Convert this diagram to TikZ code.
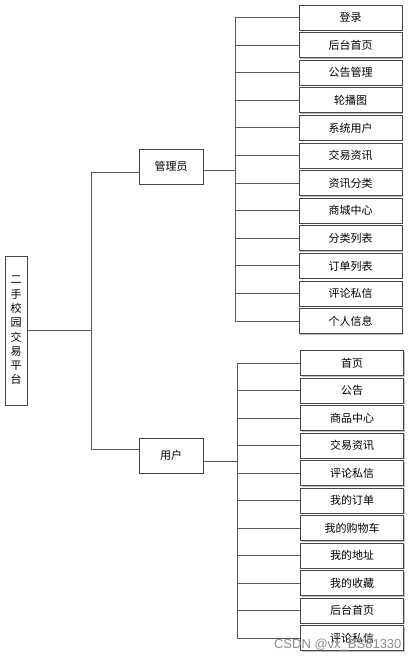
\documentclass[tikz,border=0pt]{standalone}
\usepackage{fontspec}
\newfontfamily\cjk{Noto Sans CJK SC}
\newfontfamily\wmfont{Liberation Sans}
\usetikzlibrary{shadows}
\begin{document}
\begin{tikzpicture}[x=1pt,y=1pt,
  box/.style={draw=black!72,line width=0.9pt,fill=white,
    drop shadow={shadow xshift=1pt,shadow yshift=-1pt,fill=black!25,opacity=1},
    font=\cjk\fontsize{11}{13}\selectfont,inner sep=0pt},
  leaf/.style={box,minimum width=103pt,minimum height=25pt},
  mid/.style={box,minimum width=64pt,minimum height=35pt},
  conn/.style={draw=black!65,line width=0.9pt},
  wm/.style={font=\wmfont\fontsize{13}{14}\selectfont,text=black!45}]
\useasboundingbox (0,0) rectangle (420,-662);
\fill[white] (0,0) rectangle (420,-662);
% root
\node[box,minimum width=22pt,minimum height=149pt,align=center,
  font=\cjk\fontsize{11}{14.3}\selectfont] (root) at (16,-330.5)
  {二\\手\\校\\园\\交\\易\\平\\台};
\node[mid] (admin) at (171,-166.5) {管理员};
\node[mid] (user) at (171,-455.5) {用户};
\coordinate (ta) at (91,-172);
\coordinate (tu) at (91,-449);
\coordinate (ba) at (235,-170);
\coordinate (bu) at (237,-461);
\draw[conn] (root.east) -- (root.east -| ta);
\draw[conn] (ta) -- (tu);
\draw[conn] (ta) -- (ta -| admin.west);
\draw[conn] (tu) -- (tu -| user.west);
\draw[conn] (admin.east |- ba) -- (ba);
\draw[conn] (user.east |- bu) -- (bu);
% admin children
\foreach \t [count=\i from 0] in {登录,后台首页,公告管理,轮播图,系统用户,交易资讯,资讯分类,商城中心,分类列表,订单列表,评论私信,个人信息}{
  \node[leaf] (a\i) at (350.5,{-(17.5+27.6*\i)}) {\t};
  \draw[conn] (a\i.west -| ba) -- (a\i.west);
}
\draw[conn] (a0.west -| ba) -- (a11.west -| ba);
% user children
\foreach \t [count=\i from 0] in {首页,公告,商品中心,交易资讯,评论私信,我的订单,我的购物车,我的地址,我的收藏,后台首页,评论私信}{
  \node[leaf] (u\i) at (352,{-(363+27.5*\i)}) {\t};
  \draw[conn] (u\i.west -| bu) -- (u\i.west);
}
\draw[conn] (u0.west -| bu) -- (u10.west -| bu);
\node[wm,anchor=east] (wmk) at (405,-645) {CSDN @vx\_BS81330};
\end{tikzpicture}
\end{document}
